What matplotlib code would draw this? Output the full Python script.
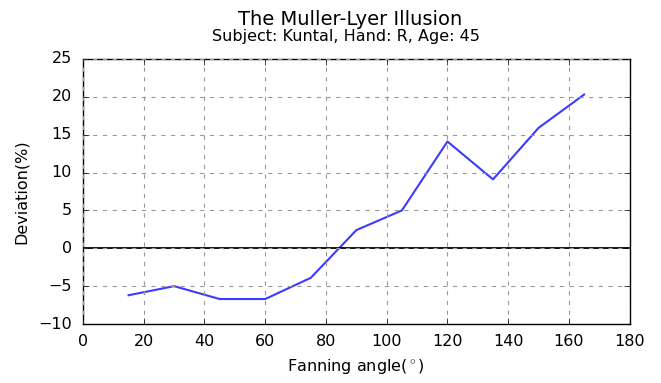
import matplotlib
matplotlib.use("Agg")
import matplotlib.pyplot as plt

angles = [15, 30, 45, 60, 75, 90, 105, 120, 135, 150, 165]
deviation = [-6.2, -5.0, -6.7, -6.7, -3.9, 2.4, 5.0, 14.1, 9.1, 15.9, 20.3]

plt.style.use("classic")

fig = plt.figure(figsize=(6.61, 3.83), dpi=100, facecolor="white")
ax = fig.add_axes([0.1256, 0.154, 0.827, 0.692])

ax.plot(angles, deviation, color="#3b3bff", lw=1.5)
ax.axhline(0, color="black", lw=1.3)

ax.set_xlim(0, 180)
ax.set_ylim(-10, 25)
ax.set_xticks(range(0, 181, 20))
ax.set_yticks(range(-10, 26, 5))
ax.grid(True, linestyle="--", color="#999999", lw=0.8, dashes=(3, 4))
ax.tick_params(labelsize=11.5)
ax.tick_params(axis="y", pad=8)
ax.tick_params(axis="x", pad=7)

ax.set_xlabel("Fanning angle($^\\circ$)", fontsize=11.5, labelpad=6)
ax.set_ylabel("Deviation(%)", fontsize=11.5, labelpad=7)

# title and subtitle stacked above the axes
fig.text(0.53, 0.950, "The Muller-Lyer Illusion", fontsize=14,
         ha="center", va="center")
fig.text(0.524, 0.904, "Subject: Kuntal, Hand: R, Age: 45", fontsize=11.5,
         ha="center", va="center")

fig.savefig("out.png", dpi=100, facecolor="white")
